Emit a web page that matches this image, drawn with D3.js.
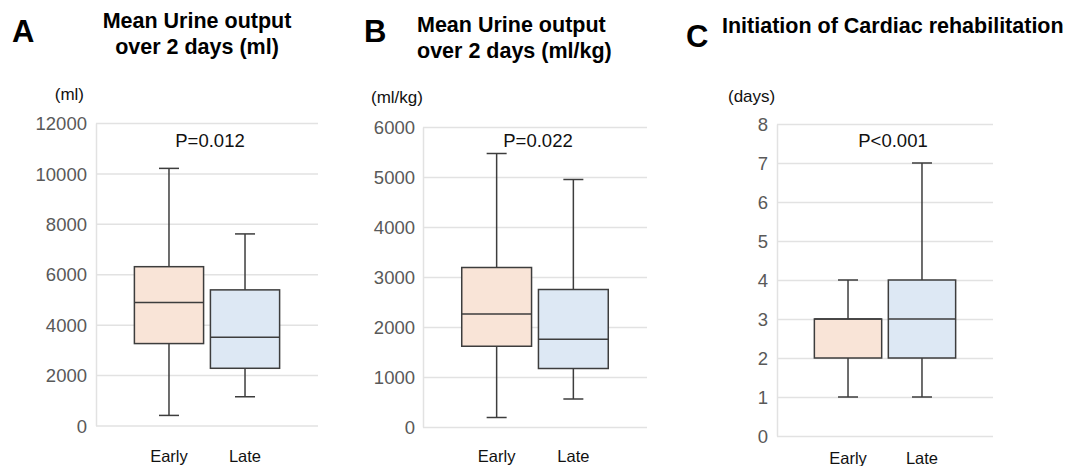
<!DOCTYPE html>
<html>
<head>
<meta charset="utf-8">
<script src="https://cdn.jsdelivr.net/npm/d3@7"></script>
<style>
  body { margin: 0; background: #fff; }
  svg { display: block; font-family: "Liberation Sans", Arial, sans-serif; }
</style>
</head>
<body>
<svg id="chart" width="1076" height="466"></svg>
<script>
// groups shared by every panel
const groups = ["Early", "Late"];

// box stats per group: [min, q1, median, q3, max]
const urineMlStats = [
  [400, 3250, 4880, 6300, 10200],
  [1140, 2270, 3500, 5380, 7600]
];
const urineMlKgStats = [
  [190, 1615, 2260, 3190, 5470],
  [560, 1170, 1755, 2750, 4950]
];
const rehabDaysStats = [
  [1, 2, 3, 3, 4],
  [1, 2, 3, 4, 7]
];

// tick labels
const urineMlTicks = [0, 2000, 4000, 6000, 8000, 10000, 12000];
const urineMlKgTicks = [0, 1000, 2000, 3000, 4000, 5000, 6000];
const rehabDaysTicks = [0, 1, 2, 3, 4, 5, 6, 7, 8];

const panelLetters = ["A", "B", "C"];
const panelTitles = [
  ["Mean Urine output", "over 2 days (ml)"],
  ["Mean Urine output", "over 2 days (ml/kg)"],
  ["Initiation of Cardiac rehabilitation"]
];
const unitLabels = ["(ml)", "(ml/kg)", "(days)"];
const pValues = ["P=0.012", "P=0.022", "P<0.001"];

const groupFill = { Early: "#f9e4d7", Late: "#dde8f4" };
const strokeCol = "#3d3d3d";
const gridCol = "#e2e2e2";

// layout of each panel (pixels)
const layout = [
  { left: 96, right: 318, top: 123, bottom: 425.5, pad: 9,
    letter: [12, 42], title: { x: 197, y: 28, anchor: "middle" },
    unit: { x: 84, y: 100, anchor: "end" }, pDx: 3, catDy: 36 },
  { left: 423, right: 647, top: 127, bottom: 427, pad: 8,
    letter: [364, 42], title: { x: 417, y: 32, anchor: "start" },
    unit: { x: 371, y: 103, anchor: "start" }, pDx: 3, catDy: 35 },
  { left: 777, right: 993, top: 124, bottom: 436, pad: 9,
    letter: [686, 47], title: { x: 722, y: 33, anchor: "start" },
    unit: { x: 728, y: 102, anchor: "start" }, pDx: 8, catDy: 28 }
];

const statsList = [urineMlStats, urineMlKgStats, rehabDaysStats];
const tickList = [urineMlTicks, urineMlKgTicks, rehabDaysTicks];

const svg = d3.select("#chart");

statsList.forEach((stats, i) => {
  const L = layout[i];
  const ticks = tickList[i];
  const g = svg.append("g");

  const y = d3.scaleLinear()
    .domain([0, ticks[ticks.length - 1]])
    .range([L.bottom, L.top]);
  const x = d3.scalePoint()
    .domain(groups)
    .range([L.left, L.right])
    .padding(0.96);
  const boxW = x.step() * 0.91;
  const capW = 20;

  // gridlines + tick labels
  const axis = d3.axisLeft(y)
    .tickValues(ticks)
    .tickSizeInner(-(L.right - L.left))
    .tickSizeOuter(0)
    .tickPadding(L.pad)
    .tickFormat(d3.format("d"));
  const ag = g.append("g")
    .attr("transform", `translate(${L.left},0)`)
    .call(axis);
  ag.select(".domain").attr("stroke", gridCol).attr("stroke-width", 1.5);
  ag.selectAll(".tick line").attr("stroke", gridCol).attr("stroke-width", 1.5);
  ag.selectAll(".tick text")
    .attr("fill", "#595959")
    .style("font-size", "18.5px")
    .attr("dy", "0.36em");

  // boxes
  const data = groups.map((k, j) => ({ key: k, s: stats[j] }));
  const bx = g.selectAll(".box").data(data).join("g").attr("class", "box");

  bx.append("line")
    .attr("x1", d => x(d.key)).attr("x2", d => x(d.key))
    .attr("y1", d => y(d.s[4])).attr("y2", d => y(d.s[3]))
    .attr("stroke", strokeCol).attr("stroke-width", 1.5);
  bx.append("line")
    .attr("x1", d => x(d.key)).attr("x2", d => x(d.key))
    .attr("y1", d => y(d.s[1])).attr("y2", d => y(d.s[0]))
    .attr("stroke", strokeCol).attr("stroke-width", 1.5);
  [0, 4].forEach(idx => {
    bx.append("line")
      .attr("x1", d => x(d.key) - capW / 2).attr("x2", d => x(d.key) + capW / 2)
      .attr("y1", d => y(d.s[idx])).attr("y2", d => y(d.s[idx]))
      .attr("stroke", strokeCol).attr("stroke-width", 1.5);
  });
  bx.append("rect")
    .attr("x", d => x(d.key) - boxW / 2)
    .attr("width", boxW)
    .attr("y", d => y(d.s[3]))
    .attr("height", d => y(d.s[1]) - y(d.s[3]))
    .attr("fill", d => groupFill[d.key])
    .attr("stroke", strokeCol).attr("stroke-width", 1.5);
  bx.append("line")
    .attr("x1", d => x(d.key) - boxW / 2).attr("x2", d => x(d.key) + boxW / 2)
    .attr("y1", d => y(d.s[2])).attr("y2", d => y(d.s[2]))
    .attr("stroke", strokeCol).attr("stroke-width", 1.5);

  // category labels
  g.selectAll(".cat").data(groups).join("text")
    .attr("x", d => x(d))
    .attr("y", L.bottom + L.catDy)
    .attr("text-anchor", "middle")
    .style("font-size", "16.5px")
    .attr("fill", "#111")
    .text(d => d);

  // p value
  g.append("text")
    .attr("x", (L.left + L.right) / 2 + L.pDx)
    .attr("y", 147)
    .attr("text-anchor", "middle")
    .style("font-size", "18.5px")
    .attr("fill", "#111")
    .text(pValues[i]);

  // unit label
  g.append("text")
    .attr("x", L.unit.x).attr("y", L.unit.y)
    .attr("text-anchor", L.unit.anchor)
    .style("font-size", "17px")
    .attr("fill", "#111")
    .text(unitLabels[i]);

  // panel letter
  g.append("text")
    .attr("x", L.letter[0]).attr("y", L.letter[1])
    .style("font-size", "31px").style("font-weight", "bold")
    .text(panelLetters[i]);

  // title
  g.selectAll(".title").data(panelTitles[i]).join("text")
    .attr("x", L.title.x)
    .attr("y", (d, k) => L.title.y + k * 25.5)
    .attr("text-anchor", L.title.anchor)
    .style("font-size", "21.5px").style("font-weight", "bold")
    .text(d => d);
});
</script>
</body>
</html>
